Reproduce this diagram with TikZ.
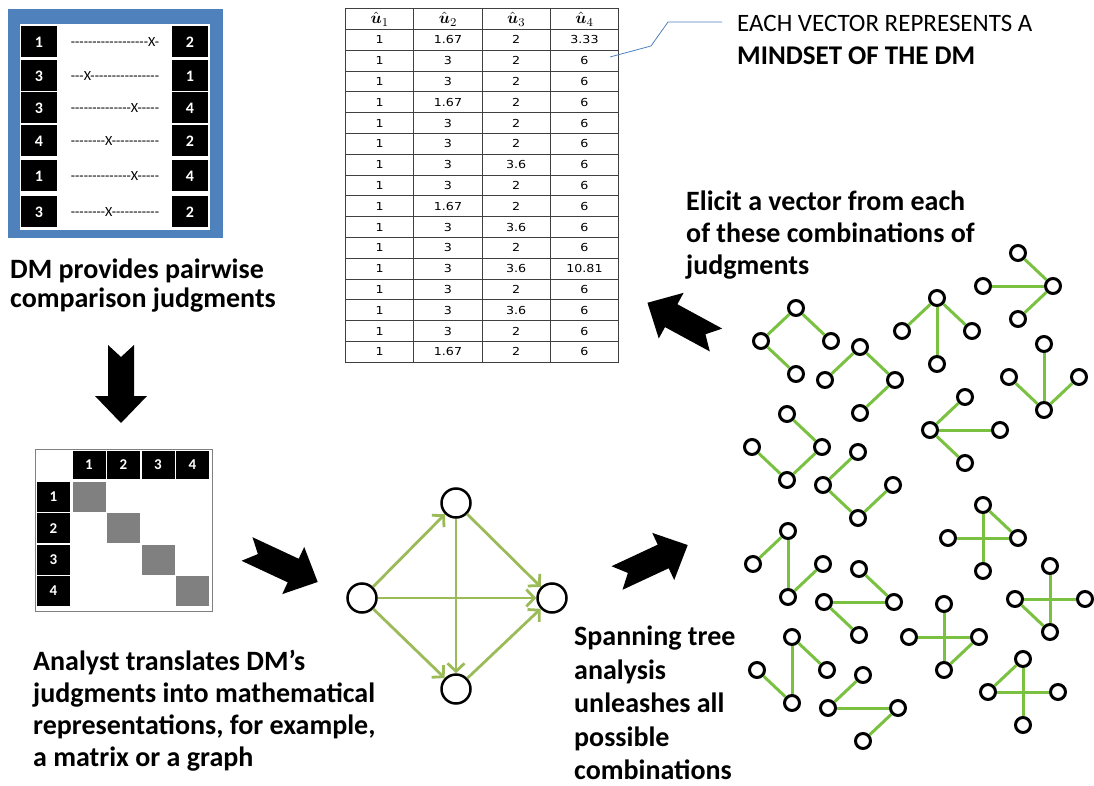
\documentclass[tikz,border=0pt]{standalone}
\usepackage{amsmath}
\usepackage{fontspec}
\setmainfont{Carlito}
\newfontfamily\tabfont{DejaVu Sans}[FakeStretch=1.15]
\newfontfamily\rowfont{Carlito}[Ligatures=TeXOff]
\usetikzlibrary{arrows.meta,matrix}
\definecolor{boxblue}{RGB}{79,129,189}
\definecolor{arcgreen}{RGB}{155,187,89}
\definecolor{treegreen}{RGB}{122,193,66}
\colorlet{diaggray}{black!50}
\newcommand{\BigArrow}[2]{\fill[shift={#1},rotate=#2] (0,-13) -- (51,-13) -- (51,-26) -- (78,0) -- (51,26) -- (51,13) -- (0,13) -- (12,0) -- cycle;}
\newcommand{\uhat}[1]{\scalebox{1.5}{$\hat{\boldsymbol{u}}_{#1}$}}

\begin{document}
\begin{tikzpicture}[x=1pt,y=-1pt]
\useasboundingbox (0,0) rectangle (1094,786);
\tikzset{numbox/.style={fill=black, text=white, inner sep=0, minimum width=36pt, minimum height=31pt, font=\bfseries\fontsize{16}{18}\selectfont},
  bigtext/.style={anchor=north west, inner sep=0, align=left, font=\bfseries\fontsize{28}{32}\selectfont}}
\fill[boxblue] (8,9) rectangle (223,238);
\fill[white] (20,24) rectangle (210,230);
\foreach \i/\y/\a/\b/\d in {1/42/1/2/------------------X-, 2/76/3/1/---X----------------, 3/108/3/4/--------------X-----, 4/141/4/2/--------X-----------, 5/176/1/4/--------------X-----, 6/212/3/2/--------X-----------}
{
  \node[numbox] (l\i) at (39,\y) {\a};
  \node[numbox] (r\i) at (190,\y) {\b};
  \node[font=\rowfont\fontsize{14}{16}\selectfont] (d\i) at (115,\y) {\d};
}
\node[bigtext, font=\bfseries\fontsize{28}{29}\selectfont] (provide) at (10,259) {DM provides pairwise\\comparison judgments};
\BigArrow{(121,345)}{-90}
\draw[black!50, line width=1pt] (35,449) rectangle (212,611);
\foreach \j in {1,...,4}
{
  \node[numbox, minimum width=33pt, minimum height=28pt, font=\bfseries\fontsize{15}{17}\selectfont] (col\j) at (54.5+34.5*\j, 465) {\j};
  \node[numbox, minimum width=33pt, minimum height=30pt, font=\bfseries\fontsize{15}{17}\selectfont] (row\j) at (53.5, 465.7+31.3*\j) {\j};
  \node[fill=diaggray, minimum width=33pt, minimum height=30pt, inner sep=0] (dg\j) at (col\j |- row\j) {};
}
\node[bigtext] (analyst) at (33,650) {Analyst translates DM’s\\judgments into mathematical\\representations, for example,\\a matrix or a graph};
\BigArrow{(247,549)}{-25}
\tikzset{GraphVertex/.style={circle, draw, line width=2.5pt, fill=white, minimum size=29pt, inner sep=0},
  ArcStyle/.style={draw=arcgreen, line width=2.8pt, -{Straight Barb[length=8pt,width=17pt]}}}
\node[GraphVertex] (gT) at (456,503) {};
\node[GraphVertex] (gL) at (362,598) {};
\node[GraphVertex] (gR) at (552,598) {};
\node[GraphVertex] (gB) at (456,689) {};
\foreach \a/\b in {gL/gT, gT/gR, gL/gR, gT/gB, gL/gB, gB/gR}
  \draw[ArcStyle] (\a) -- (\b);
\BigArrow{(617,578)}{25}
\node[bigtext, font=\bfseries\fontsize{28}{33.5}\selectfont] (spanning) at (574,626) {Spanning tree\\analysis\\unleashes all\\possible\\combinations};
\tikzset{VertexStyle/.style={circle, draw, line width=3pt, fill=white, minimum size=15pt, inner sep=0},
  EdgeStyle/.style={draw=treegreen, line width=3pt}}
\foreach \n/\cx/\cy/\es in {1/796/341/{T/L,T/R,L/B}, 2/860/380/{T/L,T/R,R/B}, 3/937/331/{T/L,T/R,T/B}, 4/1018/286/{T/R,L/R,B/R},
  5/1044/377/{T/B,L/B,R/B}, 6/787/447/{T/R,L/B,R/B}, 7/858/485/{T/L,L/B,R/B}, 8/965/430/{L/T,L/R,L/B},
  9/983/538/{T/B,L/R,T/R}, 10/788/564/{T/L,T/B,B/R}, 11/859/602/{T/R,L/R,L/B}, 12/1050/599/{T/B,L/R,L/B},
  13/944/637/{T/B,L/R,R/B}, 14/792/670/{T/B,T/R,L/B}, 15/863/708/{T/L,L/R,R/B}, 16/1023/692/{T/B,L/R,L/T}}
{
  \node[VertexStyle] (t\n T) at (\cx,\cy-33) {};
  \node[VertexStyle] (t\n L) at (\cx-35,\cy) {};
  \node[VertexStyle] (t\n R) at (\cx+35,\cy) {};
  \node[VertexStyle] (t\n B) at (\cx,\cy+33) {};
  \foreach \a/\b in \es
    \draw[EdgeStyle] (t\n\a) -- (t\n\b);
}
\BigArrow{(716,340)}{151.5}
\node[bigtext] (elicit) at (686,191) {Elicit a vector from each\\of these combinations of\\judgments};
\matrix (tab) [matrix of nodes, anchor=north west, inner sep=0, column sep=-0.8pt, row sep=-0.8pt,
  nodes={draw=black!75, line width=0.8pt, minimum width=68.25pt, minimum height=20.8pt, inner sep=0, anchor=center, font=\tabfont\fontsize{11}{13}\selectfont}] at (345,8)
{
\uhat{1} & \uhat{2} & \uhat{3} & \uhat{4} \\
1 & 1.67 & 2 & 3.33 \\
1 & 3 & 2 & 6 \\
1 & 3 & 2 & 6 \\
1 & 1.67 & 2 & 6 \\
1 & 3 & 2 & 6 \\
1 & 3 & 2 & 6 \\
1 & 3 & 3.6 & 6 \\
1 & 3 & 2 & 6 \\
1 & 1.67 & 2 & 6 \\
1 & 3 & 3.6 & 6 \\
1 & 3 & 2 & 6 \\
1 & 3 & 3.6 & 10.81 \\
1 & 3 & 2 & 6 \\
1 & 3 & 3.6 & 6 \\
1 & 3 & 2 & 6 \\
1 & 1.67 & 2 & 6 \\
};
\coordinate (callA) at (610,57);
\coordinate (callB) at (722,22);
\draw[boxblue, line width=0.8pt] (callA) -- (651,46) -- (668,22) -- (callB);
\node[anchor=north west, inner sep=0, align=left, font=\fontsize{25}{33}\selectfont] (mindset) at (737,15) {EACH VECTOR REPRESENTS A\\\textbf{\fontsize{27}{33}\selectfont MINDSET OF THE DM}};
\end{tikzpicture}
\end{document}
